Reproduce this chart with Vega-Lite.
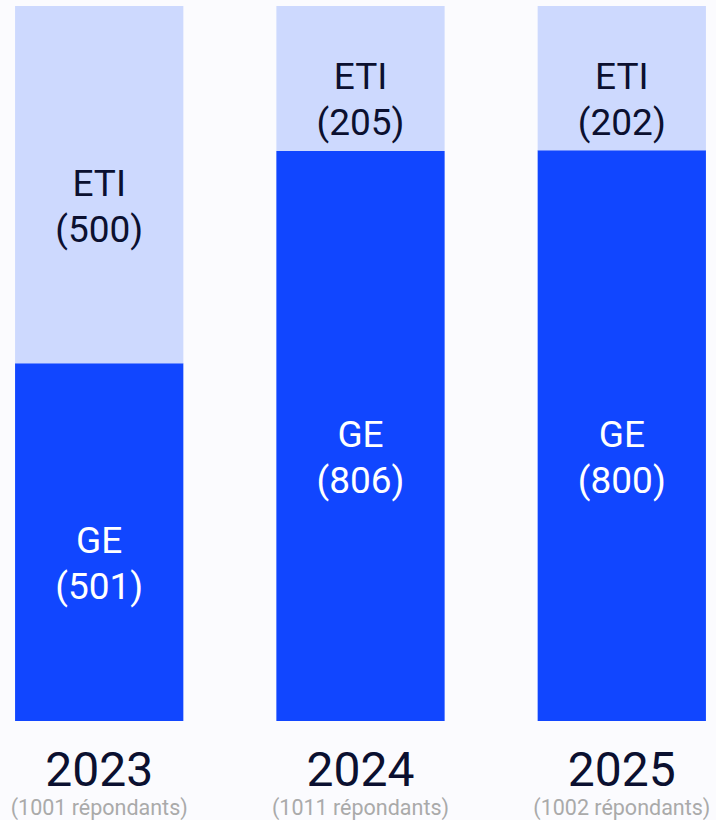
{
  "$schema": "https://vega.github.io/schema/vega-lite/v6.json",
  "width": 717,
  "height": 715,
  "autosize": "none",
  "padding": {"top": 6, "bottom": 99, "left": 2, "right": 0},
  "background": "#fbfbfe",
  "config": {"view": {"stroke": null}, "font": "Roboto"},
  "data": {
    "values": [
      {"year": "2023", "sub": "(1001 répondants)", "segment": "GE", "n": 501, "label": "GE\n(501)"},
      {"year": "2023", "sub": "(1001 répondants)", "segment": "ETI", "n": 500, "label": "ETI\n(500)"},
      {"year": "2024", "sub": "(1011 répondants)", "segment": "GE", "n": 806, "label": "GE\n(806)"},
      {"year": "2024", "sub": "(1011 répondants)", "segment": "ETI", "n": 205, "label": "ETI\n(205)"},
      {"year": "2025", "sub": "(1002 répondants)", "segment": "GE", "n": 800, "label": "GE\n(800)"},
      {"year": "2025", "sub": "(1002 répondants)", "segment": "ETI", "n": 202, "label": "ETI\n(202)"}
    ]
  },
  "resolve": {"scale": {"x": "independent"}, "axis": {"x": "independent"}},
  "layer": [
    {
      "encoding": {
        "x": {
          "field": "year", "type": "nominal",
          "scale": {"type": "band", "paddingInner": 0.356, "paddingOuter": 0.05},
          "axis": {"orient": "bottom", "title": null, "domain": false, "ticks": false, "tickSize": 0, "labelAngle": 0, "labelBaseline": "alphabetic", "labelPadding": 64, "labelFontSize": 48, "labelColor": "#0b1030", "labelFont": "Roboto"}
        },
        "y": {"field": "n", "type": "quantitative", "stack": "normalize", "axis": null},
        "order": {"field": "segment", "sort": "descending"}
      },
      "layer": [
        {
          "mark": {"type": "bar"},
          "encoding": {
            "color": {"field": "segment", "type": "nominal", "scale": {"domain": ["GE", "ETI"], "range": ["#1146ff", "#cdd9fe"]}, "legend": null}
          }
        },
        {
          "mark": {"type": "text", "fontSize": 37, "lineHeight": 46, "lineBreak": "\n", "font": "Roboto", "baseline": "middle"},
          "encoding": {
            "y": {"field": "n", "type": "quantitative", "stack": "normalize", "bandPosition": 0.5},
            "detail": {"field": "segment"},
            "text": {"field": "label"},
            "color": {"condition": {"test": "datum.segment == 'GE'", "value": "#ffffff"}, "value": "#0b1030"}
          }
        }
      ]
    },
    {
      "mark": {"type": "bar", "opacity": 0},
      "encoding": {
        "x": {
          "field": "sub", "type": "nominal",
          "sort": ["(1001 répondants)", "(1011 répondants)", "(1002 répondants)"],
          "scale": {"type": "band", "paddingInner": 0.356, "paddingOuter": 0.05},
          "axis": {"orient": "bottom", "title": null, "domain": false, "ticks": false, "tickSize": 0, "labelAngle": 0, "labelBaseline": "alphabetic", "labelPadding": 93, "labelFontSize": 21.5, "labelColor": "#aaaaaa", "labelFont": "Roboto"}
        },
        "y": {"field": "n", "type": "quantitative", "stack": "normalize"},
        "detail": {"field": "segment"}
      }
    }
  ]
}
